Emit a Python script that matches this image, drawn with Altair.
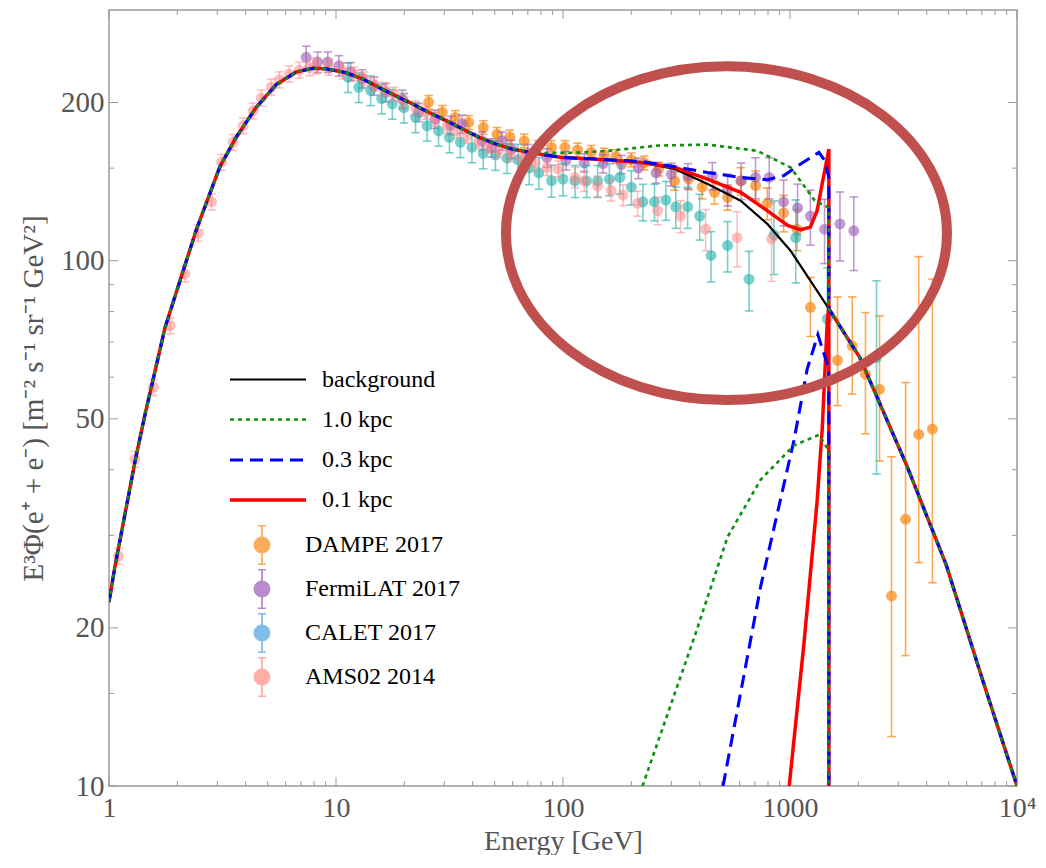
import altair as alt
import pandas as pd

W, H = 908, 776
FONT = "Liberation Serif"

# ---------------- model curves ----------------
BKG_E = [1, 1.066, 1.199, 1.304, 1.443, 1.596, 1.766, 2.055, 2.43, 3.08, 3.64, 4.46, 5.46, 6.67,
         7.91, 9.03, 11.04, 13.1, 15.4, 18.3, 21.7, 25.6, 30.5, 36.0, 42.5, 50.4, 59.4, 70.5,
         98.2, 138, 220, 310, 433, 607, 794, 1005, 1230, 1483, 2030, 3264, 4870, 7060, 10000]
BKG_V = [22.4, 26.4, 34.4, 41.6, 51.1, 61.7, 74.6, 91.6, 114.8, 151, 172, 196, 216.5, 228.6,
         232.4, 231.8, 228, 221.8, 213.8, 206, 198.8, 191.6, 184.8, 178.2, 171.8, 166.8, 163.2, 160.8,
         157.2, 156.1, 153.8, 149.5, 140, 130, 117.5, 104.5, 91.6, 81.0, 65.4, 40.8, 26.4, 15.9, 10.0]

CUT_E = 1483          # cut-off energy of the pulsar spectra
BKG_AT_CUT = 81.0
FLOOR_V = 1.0         # pulsar component falls to (almost) zero above the cut-off

# total spectra (background + pulsar) where they leave the background
RED_E = [220, 310, 433, 607, 794, 980, 1114, 1230, 1317, 1386, 1459, 1483]
RED_V = [153.8, 150.6, 142.9, 134.9, 124.5, 116.6, 114.5, 115.9, 124.5, 140, 157, 163]
BLUE_E = [220, 310, 433, 607, 794, 937, 1114, 1340, 1420, 1483]
BLUE_V = [154.5, 151, 147.2, 144, 142.6, 145.1, 152.8, 160.8, 155.2, 144]
GREEN_E = [59.4, 80.5, 113, 158, 261, 433, 719, 1005, 1286, 1483]
GREEN_V = [163.2, 160.3, 160.5, 161.8, 165.6, 166.3, 161.8, 150.5, 130.1, 126.2]

# pulsar components alone
RC_E = [992, 1151, 1317, 1386, 1459, 1483]
RC_V = [10, 18.6, 34.9, 47.7, 76.4, 82]
BC_E = [507, 743, 1041, 1191, 1327, 1483]
BC_V = [10, 24.0, 45.5, 62.2, 72.3, 62.2]
GC_E = [224, 379, 531, 743, 1041, 1340, 1483]
GC_V = [10, 19.2, 29.8, 38.3, 44.5, 46.6, 43.5]

SERIES = ["background", "1.0 kpc", "0.3 kpc", "0.1 kpc"]
LINE_COLORS = ["#000000", "#109010", "#0000ff", "#ff0000"]
DASHES = [[1, 0], [4, 4], [13, 7], [1, 0]]
WIDTHS = [2.2, 3.5, 3.5, 3.0]

# ---------------- measurements ----------------
DAMPE_E = [25.6, 29.4, 33.5, 38.4, 44.6, 51.2, 58.3, 67.5, 77.5, 89.0, 102, 116, 133, 152, 171,
           200, 228, 264, 310, 358, 410, 465, 531, 607, 705, 794, 937, 1074, 1230, 1620, 1880,
           2150, 2480, 2800, 3230, 3690, 4240]
DAMPE_V = [200.2, 191.6, 187.4, 183.3, 179.3, 174, 172, 169, 164.3, 164.3, 164.3, 162.5, 160.8,
           158.9, 157.9, 155.6, 153.5, 149.5, 141.8, 142.9, 138, 134.9, 132, 141.8, 139, 128.6,
           123.3, 114.8, 81.5, 64.6, 68.8, 60.8, 56.9, 23.0, 32.2, 46.7, 47.8]
DAMPE_DN = [0.03, 0.03, 0.03, 0.03, 0.03, 0.03, 0.03, 0.03, 0.03, 0.03, 0.03, 0.03, 0.03, 0.03,
            0.03, 0.03, 0.03, 0.03, 0.04, 0.045, 0.05, 0.05, 0.055, 0.06, 0.065, 0.07, 0.08, 0.09,
            0.12, 0.18, 0.19, 0.23, 0.27, 0.46, 0.45, 0.43, 0.49]
DAMPE_UP = [0.03, 0.03, 0.03, 0.03, 0.03, 0.03, 0.03, 0.03, 0.03, 0.03, 0.03, 0.03, 0.03, 0.03,
            0.03, 0.03, 0.03, 0.03, 0.04, 0.045, 0.05, 0.05, 0.055, 0.06, 0.065, 0.07, 0.08, 0.09,
            0.14, 0.32, 0.24, 0.31, 0.38, 0.84, 0.82, 1.18, 0.93]

FERMI_E = [7.39, 8.30, 9.20, 10.3, 11.6, 13.0, 14.7, 16.6, 19.6, 23.1, 27.3, 32.0, 36.0, 44.0,
           48.5, 54.0, 59.4, 70.0, 85.0, 103, 124, 150, 181, 215, 257, 300, 355, 455, 531, 610,
           705, 810, 937, 1080, 1230, 1420, 1660, 1910]
FERMI_V = [243.8, 238.8, 238.8, 235, 229, 222, 215, 209, 203, 191.6, 186, 181, 182, 169, 164,
           169, 163, 160, 157, 155, 153.5, 153, 152.5, 150, 147, 146, 145, 145, 136.6, 142, 144,
           144, 129.4, 126, 121.6, 114.8, 117.5, 114]
FERMI_ERR = [0.05, 0.045, 0.045, 0.045, 0.04, 0.04, 0.04, 0.04, 0.04, 0.04, 0.04, 0.04, 0.04,
             0.04, 0.04, 0.04, 0.04, 0.04, 0.04, 0.04, 0.04, 0.04, 0.04, 0.045, 0.045, 0.05, 0.055,
             0.06, 0.07, 0.08, 0.09, 0.09, 0.10, 0.11, 0.12, 0.14, 0.15, 0.16]

CALET_E = [11.3, 12.6, 14.2, 15.9, 17.7, 19.9, 22.4, 25.2, 28.3, 31.6, 35.3, 39.7, 44.5, 50.4,
           56.7, 63.3, 71.0, 78.3, 89.0, 100, 113, 127, 142, 160, 178, 200, 225, 253, 284, 314,
           354, 400, 449, 531, 660, 850, 1060, 1460, 2405]
CALET_V = [223.5, 213.8, 211, 203.5, 198.8, 195.5, 187.4, 180.6, 176.6, 171.6, 168, 164.3, 160,
           158.9, 156.7, 155.6, 150, 147, 142, 142.9, 141.8, 141.8, 141.8, 142.9, 144, 138, 129.4,
           129.4, 130.4, 126.6, 126.6, 121.6, 102.3, 106.9, 92.2, 112, 110.6, 77.5, 65.4]
CALET_ERR = [0.065, 0.065, 0.065, 0.065, 0.065, 0.065, 0.065, 0.065, 0.065, 0.065, 0.065, 0.065,
             0.065, 0.065, 0.065, 0.07, 0.07, 0.07, 0.07, 0.07, 0.07, 0.07, 0.07, 0.07, 0.07,
             0.075, 0.08, 0.08, 0.085, 0.09, 0.09, 0.10, 0.11, 0.11, 0.13, 0.16, 0.18, 0.25, 0.40]

AMS_E = [1.10, 1.30, 1.57, 1.86, 2.16, 2.47, 2.83, 3.13, 3.52, 3.90, 4.31, 4.69, 5.19, 5.63, 6.23,
         6.90, 7.63, 8.17, 9.30, 10.7, 12.0, 13.3, 14.7, 16.3, 18.0, 19.9, 22.4, 24.8, 27.5, 30.9,
         34.2, 37.8, 42.5, 47.0, 52.0, 58.3, 65.8, 75.4, 85.0, 95.3, 113, 124, 142, 163, 184, 213,
         261, 330, 425, 585, 830]
AMS_V = [27.4, 41.9, 57.4, 75.2, 94.4, 112.8, 129.4, 153.9, 168, 180.6, 192.8, 204, 214, 221,
         226.7, 230.5, 233, 235, 233.6, 230, 226.7, 222, 216.8, 212, 207.6, 201.6, 195.5, 191.6,
         186, 180.6, 176.5, 172.6, 168.8, 165.5, 162.2, 160, 156.7, 153.5, 150.5, 149.5, 144,
         141.8, 138.6, 136, 133.3, 128.6, 124.5, 121.6, 114.8, 110.6, 110]
AMS_ERR = [0.035, 0.035, 0.035, 0.035, 0.035, 0.035, 0.035, 0.035, 0.035, 0.035, 0.035, 0.035,
           0.035, 0.035, 0.035, 0.035, 0.035, 0.035, 0.035, 0.035, 0.03, 0.03, 0.03, 0.03, 0.03,
           0.03, 0.03, 0.03, 0.03, 0.03, 0.03, 0.03, 0.03, 0.03, 0.03, 0.035, 0.035, 0.035, 0.035,
           0.035, 0.045, 0.045, 0.045, 0.045, 0.045, 0.055, 0.06, 0.07, 0.09, 0.12, 0.17]

DATASETS = ["DAMPE 2017", "FermiLAT 2017", "CALET 2017", "AMS02 2014"]
PT_COLORS = ["#fa8a16", "#9b59b6", "#1fb0aa", "#ff8080"]
PT_OPAC = [0.72, 0.6, 0.6, 0.5]
LEG_COLORS = ["#fa8a16", "#9b59b6", "#4aa3df", "#ff8a80"]

# axis ticks
X_MAJOR = [1, 10, 100, 1000, 10000]
X_MINOR = [2, 3, 4, 5, 6, 7, 8, 9, 20, 30, 40, 50, 60, 70, 80, 90, 200, 300, 400, 500, 600, 700,
           800, 900, 2000, 3000, 4000, 5000, 6000, 7000, 8000, 9000]
Y_MAJOR = [10, 20, 50, 100, 200]
Y_MINOR = [15, 30, 40, 60, 70, 80, 90, 150]

# annotation ellipse (centre in data units)
ELL_E, ELL_V = 525, 112.8
ELL_SIZE = 441 ** 2
ELL_PATH = ("M1,0C1,0.418 0.5523,0.757 0,0.757C-0.5523,0.757 -1,0.418 -1,0"
            "C-1,-0.418 -0.5523,-0.757 0,-0.757C0.5523,-0.757 1,-0.418 1,0Z")

# ---------------- build tables ----------------
def model_rows(name, e_list, v_list):
    rows = []
    start = e_list[0]
    pts = [(e, v) for e, v in zip(BKG_E, BKG_V) if e < start]
    pts += list(zip(e_list, v_list))
    pts.append((CUT_E, BKG_AT_CUT))
    pts += [(e, v) for e, v in zip(BKG_E, BKG_V) if e > CUT_E]
    for i, (e, v) in enumerate(pts):
        rows.append({"E": e, "V": v, "series": name, "seg": name + " total", "ord": i})
    return rows

def comp_rows(name, e_list, v_list):
    pts = list(zip(e_list, v_list)) + [(CUT_E, FLOOR_V)]
    return [{"E": e, "V": v, "series": name, "seg": name + " comp", "ord": i}
            for i, (e, v) in enumerate(pts)]

rows = [{"E": e, "V": v, "series": "background", "seg": "bkg", "ord": i}
        for i, (e, v) in enumerate(zip(BKG_E, BKG_V))]
rows += model_rows("0.1 kpc", RED_E, RED_V) + comp_rows("0.1 kpc", RC_E, RC_V)
rows += model_rows("0.3 kpc", BLUE_E, BLUE_V) + comp_rows("0.3 kpc", BC_E, BC_V)
rows += model_rows("1.0 kpc", GREEN_E, GREEN_V) + comp_rows("1.0 kpc", GC_E, GC_V)
lines_df = pd.DataFrame(rows)

def sym_df(name, E, V, err):
    return pd.DataFrame({"E": E, "V": V, "lo": [v * (1 - r) for v, r in zip(V, err)],
                         "hi": [v * (1 + r) for v, r in zip(V, err)], "dataset": name})

dampe = pd.DataFrame({"E": DAMPE_E, "V": DAMPE_V,
                      "lo": [v * (1 - r) for v, r in zip(DAMPE_V, DAMPE_DN)],
                      "hi": [v * (1 + r) for v, r in zip(DAMPE_V, DAMPE_UP)],
                      "dataset": DATASETS[0]})
fermi = sym_df(DATASETS[1], FERMI_E, FERMI_V, FERMI_ERR)
calet = sym_df(DATASETS[2], CALET_E, CALET_V, CALET_ERR)
ams = sym_df(DATASETS[3], AMS_E, AMS_V, AMS_ERR)
all_pts = pd.concat([dampe, fermi, calet, ams], ignore_index=True)

# ---------------- scales & axes ----------------
XS = alt.Scale(type="log", domain=[1, 10000], nice=False)
YS = alt.Scale(type="log", domain=[10, 300], nice=False)
X_AXIS = alt.Axis(values=X_MAJOR, title="Energy [GeV]", grid=False, ticks=False, domain=False,
                  labelExpr="datum.value == 10000 ? '10⁴' : format(datum.value, 'd')",
                  labelFlush=False, labelOverlap=False, labelPadding=8, titlePadding=5,
                  labelFontSize=28, titleFontSize=28)
Y_AXIS = alt.Axis(values=Y_MAJOR, format="d", title="E³Φ(e⁺ + e⁻) [m⁻² s⁻¹ sr⁻¹ GeV²]",
                  grid=False, ticks=False, domain=False, labelPadding=5, titlePadding=12,
                  labelOverlap=False, labelFontSize=29, titleFontSize=29)

def X(f):
    return alt.X(f"{f}:Q", scale=XS, axis=X_AXIS)

def Y(f):
    return alt.Y(f"{f}:Q", scale=YS, axis=Y_AXIS)

layers = []

# inward frame ticks
def xticks(vals, length):
    d = pd.DataFrame({"t": vals})
    b = alt.Chart(d).mark_rule(color="#9a9a9a", strokeWidth=1)
    return [b.encode(x=X("t"), y=alt.value(H), y2=alt.value(H - length)),
            b.encode(x=X("t"), y=alt.value(0), y2=alt.value(length))]

def yticks(vals, length):
    d = pd.DataFrame({"t": vals})
    b = alt.Chart(d).mark_rule(color="#9a9a9a", strokeWidth=1)
    return [b.encode(y=Y("t"), x=alt.value(0), x2=alt.value(length)),
            b.encode(y=Y("t"), x=alt.value(W), x2=alt.value(W - length))]

layers += xticks(X_MAJOR, 9) + xticks(X_MINOR, 5) + yticks(Y_MAJOR, 9) + yticks(Y_MINOR, 5)

def point_layers(df, color, op):
    b = alt.Chart(df)
    return [
        b.mark_rule(color=color, opacity=op, strokeWidth=1.6, clip=True).encode(
            x=X("E"), y=Y("lo"), y2=alt.Y2("hi")),
        b.mark_point(shape="stroke", color=color, opacity=op, size=72, strokeWidth=1.6,
                     clip=True).encode(x=X("E"), y=Y("lo")),
        b.mark_point(shape="stroke", color=color, opacity=op, size=72, strokeWidth=1.6,
                     clip=True).encode(x=X("E"), y=Y("hi")),
        b.mark_circle(color=color, opacity=op, size=120, clip=True).encode(x=X("E"), y=Y("V")),
    ]

for df, c, o in zip([dampe, fermi, calet, ams], PT_COLORS, PT_OPAC):
    layers += point_layers(df, c, o)

# legend-only layer for the measurements
PT_SYMBOL = ("M0.42,0C0.42,0.232 0.232,0.42 0,0.42C-0.232,0.42 -0.42,0.232 -0.42,0"
             "C-0.42,-0.232 -0.232,-0.42 0,-0.42C0.232,-0.42 0.42,-0.232 0.42,0Z"
             "M-0.045,-1H0.045V1H-0.045Z M-0.2,-1H0.2V-0.93H-0.2Z M-0.2,0.93H0.2V1H-0.2Z")
pt_legend = alt.Legend(title=None, orient="none", legendX=133, legendY=515,
                       symbolType=PT_SYMBOL, symbolSize=1600, symbolOpacity=0.7,
                       symbolStrokeWidth=0, labelOffset=23, labelFont=FONT, labelFontSize=24,
                       labelColor="black", rowPadding=4)
layers.append(
    alt.Chart(all_pts).mark_circle(opacity=0, size=1).encode(
        x=X("E"), y=Y("V"),
        color=alt.Color("dataset:N", scale=alt.Scale(domain=DATASETS, range=LEG_COLORS),
                        legend=pt_legend)))

# model lines
line_legend = alt.Legend(title=None, orient="none", legendX=138, legendY=349,
                         symbolType="M-2,0H2", symbolSize=1444, symbolStrokeWidth=2.5,
                         labelOffset=33, labelFont=FONT, labelFontSize=24, labelColor="black",
                         rowPadding=7)
layers.append(
    alt.Chart(lines_df).mark_line(clip=True).encode(
        x=X("E"), y=Y("V"),
        color=alt.Color("series:N", scale=alt.Scale(domain=SERIES, range=LINE_COLORS),
                        legend=line_legend),
        strokeDash=alt.StrokeDash("series:N", scale=alt.Scale(domain=SERIES, range=DASHES),
                                  legend=line_legend),
        strokeWidth=alt.StrokeWidth("series:N", scale=alt.Scale(domain=SERIES, range=WIDTHS),
                                    legend=None),
        detail="seg:N",
        order="ord:Q"))

# annotation ellipse
layers.append(
    alt.Chart(pd.DataFrame({"E": [ELL_E], "V": [ELL_V]})).mark_point(
        shape=ELL_PATH, size=ELL_SIZE, filled=False, color="#c0504d", strokeWidth=10,
        opacity=1).encode(x=X("E"), y=Y("V")))

chart = alt.layer(*layers).resolve_scale(
    color="independent", strokeDash="independent", strokeWidth="independent"
).properties(
    width=W, height=H, background="white",
    padding={"left": 11, "top": 1, "right": 0, "bottom": 0},
).configure_view(stroke="#9a9a9a", strokeWidth=1.5).configure_axis(
    labelFont=FONT, titleFont=FONT, labelColor="#555555", titleColor="#555555",
    titleFontWeight="normal")

chart.save("out.html", embed_options={"renderer": "svg", "actions": False})
